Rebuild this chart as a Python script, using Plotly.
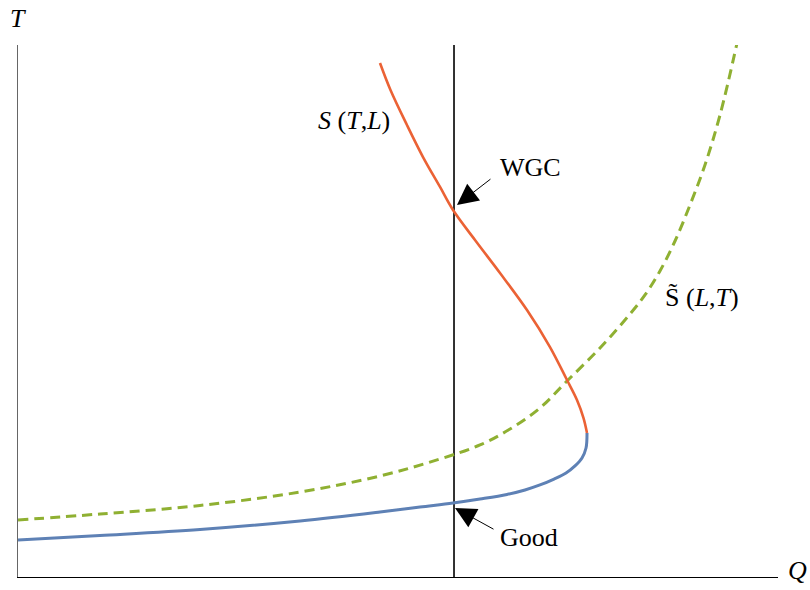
import plotly.graph_objects as go

# Pixel reading helper units: Q = (px-18)/76, T = (577-py)/76
def q(px):
    return round((px - 18) / 76, 3)

def t(py):
    return round((577 - py) / 76, 3)

# S(T,L) curve (upper branch, orange)
s_px = [380, 390.5, 407, 423, 440, 453, 475, 500, 527, 550, 567, 577, 583.5, 587]
s_py = [63, 90, 125, 157, 187, 210, 240, 273, 310, 347, 380, 400, 418, 433]

# lower branch (blue)
g_px = [587, 586, 582, 575, 566, 554, 540, 525, 507, 480, 453, 420, 380, 300, 200, 100, 18]
g_py = [433, 448, 458, 466, 473, 479, 485, 490, 494.5, 499, 503, 507, 512, 521, 529.5, 535.5, 540]

# S~(L,T) dashed curve (green)
d_px = [18, 100, 200, 300, 380, 440, 480, 510, 540, 567, 600, 630, 645, 660, 675, 690, 705, 720, 737]
d_py = [520, 514, 505.5, 492, 476, 459, 445, 429, 408, 381, 348, 314, 295, 271, 241, 205, 165, 115, 43]

s_q = [q(v) for v in s_px]
s_t = [t(v) for v in s_py]
g_q = [q(v) for v in g_px]
g_t = [t(v) for v in g_py]
d_q = [q(v) for v in d_px]
d_t = [t(v) for v in d_py]

wgc_q = [q(454), q(454)]
wgc_t = [0.0, 7.0]

FONT = "Liberation Serif"

fig = go.Figure()
fig.add_trace(go.Scatter(x=wgc_q, y=wgc_t, mode="lines",
                         line=dict(color="black", width=1.6), hoverinfo="skip"))
fig.add_trace(go.Scatter(x=d_q, y=d_t, mode="lines", line_shape="spline",
                         line=dict(color="#8FB032", width=3, dash="10px,6px"), hoverinfo="skip"))
fig.add_trace(go.Scatter(x=g_q, y=g_t, mode="lines", line_shape="spline",
                         line=dict(color="#5E81B5", width=3), hoverinfo="skip"))
fig.add_trace(go.Scatter(x=s_q, y=s_t, mode="lines", line_shape="spline",
                         line=dict(color="#EB6235", width=2.6), hoverinfo="skip"))

tf = dict(family=FONT, size=26, color="black")
W, H = 810, 590
L, R, TOP, B = 18, 32, 45, 13
pw, ph = W - L - R, H - TOP - B

ann = [
    dict(x=q(354), y=t(120), text="<i>S</i> (<i>T</i>,<i>L</i>)", showarrow=False, font=tf),
    dict(x=q(530), y=t(168), text="WGC", showarrow=False, font=tf),
    dict(x=q(702), y=t(297), text="S\u0303 (<i>L</i>,<i>T</i>)", showarrow=False, font=tf),
    dict(x=q(529), y=t(537), text="Good", showarrow=False, font=tf),
    dict(xref="paper", yref="paper", x=0.0, y=(H - B - 19) / ph, text="<i>T</i>",
         xanchor="center", yanchor="middle", showarrow=False, font=tf),
    dict(xref="paper", yref="paper", x=(786 - L) / pw, y=-10 / ph, text="<i>Q</i>",
         xanchor="left", yanchor="bottom", showarrow=False, font=tf),
    dict(x=q(457), y=t(205), text="", showarrow=True, ax=35, ay=-27,
         arrowhead=2, arrowsize=4.2, arrowwidth=1, arrowcolor="black"),
    dict(x=q(455), y=t(508), text="", showarrow=True, ax=40, ay=22,
         arrowhead=2, arrowsize=4.2, arrowwidth=1, arrowcolor="black"),
]

fig.update_layout(
    width=W, height=H, autosize=False,
    margin=dict(l=L, r=R, t=TOP, b=B),
    paper_bgcolor="white", plot_bgcolor="white",
    showlegend=False,
    annotations=ann,
    xaxis=dict(range=[0, 10], showgrid=False, zeroline=False, showticklabels=False,
               ticks="", showline=True, linecolor="black", linewidth=1),
    yaxis=dict(range=[0, 7], showgrid=False, zeroline=False, showticklabels=False,
               ticks="", showline=True, linecolor="#666666", linewidth=1.2),
)

# remove the page's default body margin so the figure fills the window exactly
fig.write_html("out.html", config={"displayModeBar": False},
               post_script="document.body.style.margin='0';document.body.style.overflow='hidden';")
